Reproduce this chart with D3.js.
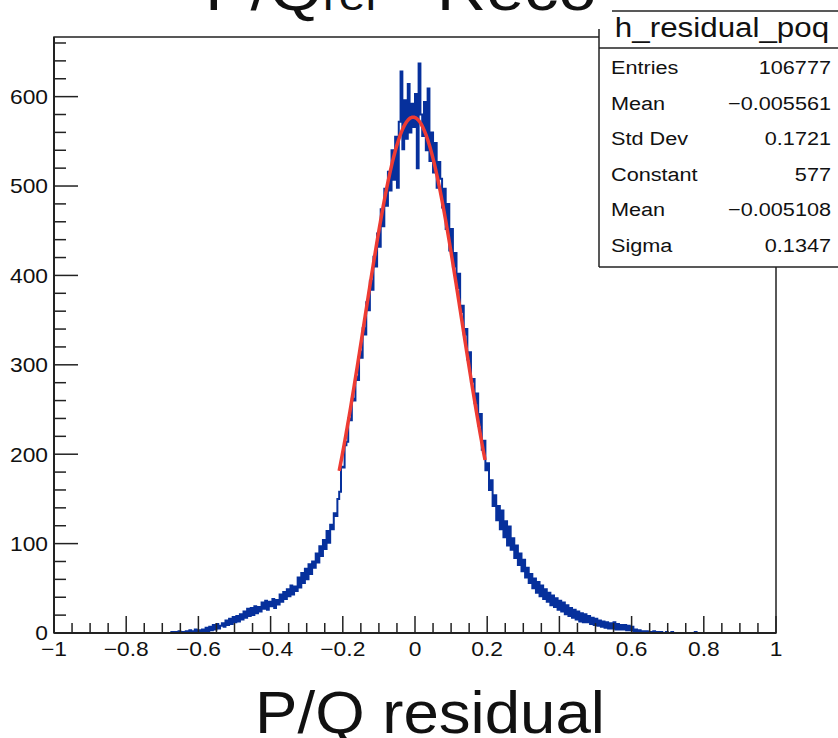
<!DOCTYPE html>
<html>
<head>
<meta charset="utf-8">
<script src="https://cdn.jsdelivr.net/npm/d3@7"></script>
<style>
  html, body { margin: 0; padding: 0; background: #fff; }
  svg { display: block; }
  text { font-family: "Liberation Sans", Arial, Helvetica, sans-serif; fill: #111; }
</style>
</head>
<body>
<svg id="chart" width="838" height="738"></svg>
<script>
// histogram of P/Q residual, bin width 0.005, first bin starts at -0.68
var binStart = -0.68;
var binWidth = 0.005;
var counts = [
    0, 1, 0, 1, 0, 2, 0, 1, 0, 2,
    1, 3, 0, 2, 4, 1, 3, 1, 4, 2,
    6, 2, 7, 3, 9, 4, 10, 5, 8, 11,
    7, 14, 9, 16, 10, 18, 12, 19, 13, 21,
    15, 24, 17, 27, 19, 28, 20, 30, 22, 29,
    24, 34, 27, 36, 26, 35, 30, 38, 28, 37,
    32, 43, 35, 46, 38, 49, 41, 53, 43, 52,
    47, 62, 51, 67, 56, 72, 60, 77, 66, 80,
    73, 89, 79, 97, 86, 104, 94, 114, 101, 121,
    116, 134, 131, 150, 158, 186, 185, 210, 214, 240,
    238, 262, 260, 287, 283, 315, 308, 341, 334, 370,
    361, 394, 384, 421, 410, 447, 432, 474, 455, 497,
    478, 516, 495, 540, 507, 555, 498, 572, 628, 541,
    596, 553, 614, 560, 592, 566, 603, 520, 637, 580,
    556, 594, 540, 609, 528, 560, 515, 548, 498, 527,
    508, 476, 497, 452, 480, 428, 452, 410, 425, 386,
    402, 359, 366, 334, 340, 306, 314, 281, 284, 257,
    268, 232, 245, 205, 215, 182, 190, 160, 171, 142,
    154, 126, 142, 116, 137, 107, 125, 98, 119, 93,
    106, 84, 98, 76, 89, 69, 82, 62, 73, 56,
    66, 50, 61, 45, 57, 41, 53, 38, 49, 35,
    45, 31, 42, 29, 39, 26, 36, 24, 34, 21,
    31, 19, 28, 17, 26, 15, 24, 13, 22, 12,
    21, 12, 19, 10, 17, 9, 16, 8, 14, 7,
    13, 6, 12, 5, 11, 5, 12, 4, 10, 4,
    9, 4, 9, 3, 8, 3, 7, 2, 4, 1,
    3, 0, 2, 1, 2, 0, 1, 1, 2, 0,
    1, 0, 1, 0, 0, 1, 0, 0, 1, 0,
    0, 0, 0, 0, 0, 0, 0, 0, 0, 0,
    0, 1
];

// gaussian fit (from the stats box)
var fitConstant = 577;
var fitMean = -0.005108;
var fitSigma = 0.1347;
var fitRange = [-0.21, 0.195];

var xMajor = [-1, -0.8, -0.6, -0.4, -0.2, 0, 0.2, 0.4, 0.6, 0.8, 1];
var yMajor = [0, 100, 200, 300, 400, 500, 600];

var statLabels = ["Entries", "Mean", "Std Dev", "Constant", "Mean", "Sigma"];
var statValues = ["106777", "\u22120.005561", "0.1721", "577", "\u22120.005108", "0.1347"];
var histName = "h_residual_poq";
var xTitle = "P/Q residual";

var svg = d3.select("#chart");
var frame = {left: 54, right: 776, top: 37, bottom: 633};
var stretch = 1.14;

var x = d3.scaleLinear().domain([-1, 1]).range([frame.left, frame.right]);
var y = d3.scaleLinear().domain([0, 666.7]).range([frame.bottom, frame.top]);

function label(g, px, py, s, size, anchor, sx) {
    return g.append("text")
        .attr("transform", "translate(" + px + "," + py + ") scale(" + (sx || stretch) + ",1)")
        .attr("text-anchor", anchor)
        .style("font-size", size + "px")
        .text(s);
}

// title, mostly off the top of the picture
var title = svg.append("text")
    .attr("transform", "translate(205,10) scale(" + stretch + ",1)")
    .style("font-size", "60px");
title.append("tspan").text("P/Q");
title.append("tspan").style("font-size", "42px").text("rel");
title.append("tspan").text(" - Reco");

// frame
svg.append("rect")
    .attr("x", frame.left).attr("y", frame.top)
    .attr("width", frame.right - frame.left).attr("height", frame.bottom - frame.top)
    .attr("fill", "none").attr("stroke", "#222").attr("stroke-width", 1.5);

// histogram as a step line
var pts = [[x(binStart), y(0)]];
counts.forEach(function (c, i) {
    var lo = binStart + i * binWidth;
    pts.push([x(lo), y(c)]);
    pts.push([x(lo + binWidth), y(c)]);
});
pts.push([x(binStart + counts.length * binWidth), y(0)]);

svg.append("path")
    .attr("d", d3.line()(pts))
    .attr("fill", "none")
    .attr("stroke", "#06309c")
    .attr("stroke-width", 2);

// fit curve
var fitX = d3.range(fitRange[0], fitRange[1] + 1e-9, 0.002);
var fitLine = d3.line()
    .x(function (d) { return x(d); })
    .y(function (d) {
        var z = (d - fitMean) / fitSigma;
        return y(fitConstant * Math.exp(-0.5 * z * z));
    });

svg.append("path")
    .attr("d", fitLine(fitX))
    .attr("fill", "none")
    .attr("stroke", "#ee3b33")
    .attr("stroke-width", 3.5);

// axes (ticks point into the frame)
var axes = svg.append("g").attr("stroke", "#222");
axes.append("line")
    .attr("x1", frame.left).attr("x2", frame.right)
    .attr("y1", frame.bottom).attr("y2", frame.bottom)
    .attr("stroke-width", 2);
axes.append("line")
    .attr("x1", frame.left).attr("x2", frame.left)
    .attr("y1", frame.top).attr("y2", frame.bottom)
    .attr("stroke-width", 2);

var xMinor = d3.range(-1, 1.0001, 0.05);
xMinor.forEach(function (v) {
    var major = Math.abs(Math.round(v * 5) - v * 5) < 1e-6;
    axes.append("line")
        .attr("x1", x(v)).attr("x2", x(v))
        .attr("y1", frame.bottom).attr("y2", frame.bottom - (major ? 17 : 10))
        .attr("stroke-width", 1.5);
});

var yMinor = d3.range(0, 666.7, 20);
yMinor.forEach(function (v) {
    var major = v % 100 === 0;
    axes.append("line")
        .attr("x1", frame.left).attr("x2", frame.left + (major ? 24 : 12))
        .attr("y1", y(v)).attr("y2", y(v))
        .attr("stroke-width", 1.5);
});

var labels = svg.append("g");
var fmt = d3.format("");
xMajor.forEach(function (v) {
    label(labels, x(v), 656, fmt(v), 20, "middle");
});
yMajor.forEach(function (v) {
    label(labels, frame.left - 6, y(v) + 7.3, fmt(v), 20, "end");
});

label(labels, 430, 733, xTitle, 60, "middle", 1.06);

// stats box
var stats = svg.append("g");
stats.append("rect")
    .attr("x", 612).attr("y", 11).attr("width", 240).attr("height", 37)
    .attr("fill", "#fff");
stats.append("rect")
    .attr("x", 599).attr("y", 29).attr("width", 250).attr("height", 238)
    .attr("fill", "#fff");
var sLines = [
    [612, 11, 838, 11],
    [599, 48, 838, 48],
    [599, 29, 599, 267],
    [599, 267, 838, 267]
];
sLines.forEach(function (l) {
    stats.append("line")
        .attr("x1", l[0]).attr("y1", l[1]).attr("x2", l[2]).attr("y2", l[3])
        .attr("stroke", "#222").attr("stroke-width", 1.5);
});
label(stats, 722, 37, histName, 27.5, "middle");
statLabels.forEach(function (s, i) {
    var by = 74 + i * 35.5;
    label(stats, 611, by, s, 19, "start");
    label(stats, 831, by, statValues[i], 19, "end");
});
</script>
</body>
</html>
